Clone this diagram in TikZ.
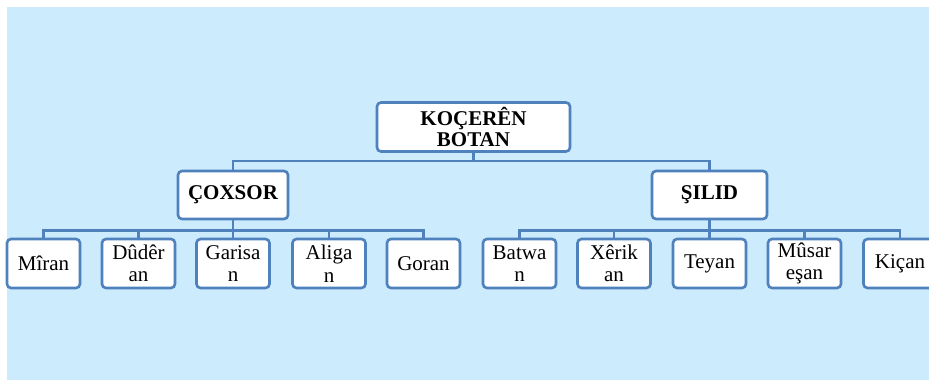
\documentclass[tikz,border=0pt]{standalone}
\usepackage{fontspec}
\setmainfont{Liberation Serif}
\definecolor{bgblue}{RGB}{204,235,253}
\definecolor{edgeblue}{RGB}{79,129,189}
\tikzset{
  box/.style={draw=edgeblue, line width=2.6pt, rounded corners=4pt, fill=white, align=center, inner sep=0pt, text=black},
  leaf/.style={box, minimum width=73pt, minimum height=49pt, font=\fontsize{21}{22.5}\selectfont},
  mid/.style={box, minimum height=48pt, font=\fontsize{21}{22}\selectfont\bfseries},
  link/.style={draw=edgeblue, line width=2.6pt}
}
\begin{document}
\begin{tikzpicture}[x=1pt,y=-1pt]
\useasboundingbox (0,0) rectangle (929,380);
\clip (0,0) rectangle (929,380);
\fill[bgblue] (7,7) rectangle (929,380);
% root
\node[box, minimum width=193pt, minimum height=49pt, font=\fontsize{21}{21.5}\selectfont\bfseries] (root) at (473.5,127) {KOÇERÊN\\BOTAN};
\node[mid, minimum width=110pt] (c) at (233,195) {ÇOXSOR};
\node[mid, minimum width=115pt] (s) at (709.5,195) {ŞILID};
% leaves
\node[leaf] (l1) at (43.5,263.5) {Mîran};
\node[leaf] (l2) at (138.5,263.5) {Dûdêr\\an};
\node[leaf] (l3) at (233,263.5) {Garisa\\n};
\node[leaf] (l4) at (329,263.5) {Aliga\\n};
\node[leaf] (l5) at (423.5,263.5) {Goran};
\node[leaf] (r1) at (519.5,263.5) {Batwa\\n};
\node[leaf] (r2) at (614,263.5) {Xêrik\\an};
\node[leaf] (r3) at (709.5,263.5) {Teyan};
\node[leaf] (r4) at (804.5,263.5) {Mûsar\\eşan};
\node[leaf] (r5) at (900,263.5) {Kiçan};
% connectors
\draw[link] (root.south) -- ++(0,8) -| (c.north);
\draw[link] (root.south) -- ++(0,8) -| (s.north);
\foreach \n in {l1,l2,l3,l4,l5}{\draw[link] (c.south) -- ++(0,10) -| (\n.north);}
\foreach \n in {r1,r2,r3,r4,r5}{\draw[link] (s.south) -- ++(0,10) -| (\n.north);}
\end{tikzpicture}
\end{document}
